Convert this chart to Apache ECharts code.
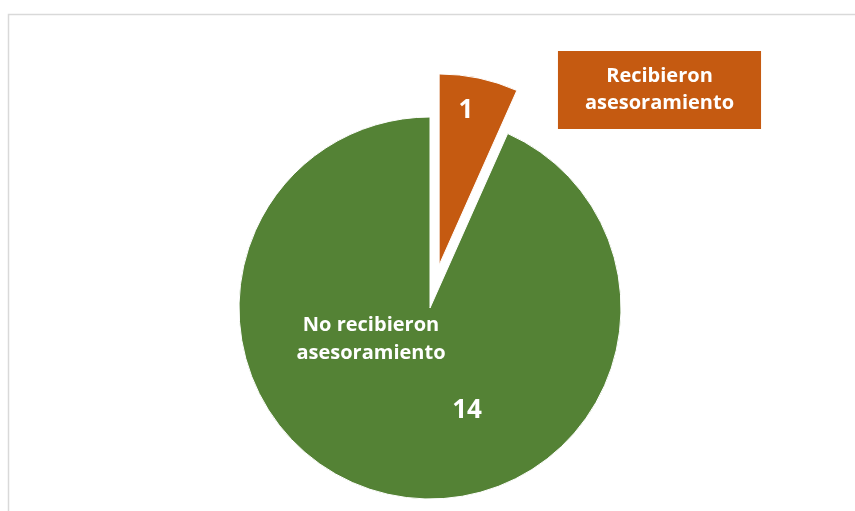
<!DOCTYPE html>
<html>
<head>
<meta charset="utf-8">
<script src="https://cdn.jsdelivr.net/npm/echarts@6/dist/echarts.min.js"></script>
<style>
  html, body { margin: 0; padding: 0; background: #ffffff; }
  #chart { width: 855px; height: 511px; }
</style>
</head>
<body>
<div id="chart"></div>
<script>
// Survey result: who received advice
const categories = ['Recibieron asesoramiento', 'No recibieron asesoramiento'];
const counts = [1, 14];
const sliceColors = ['#C55A11', '#548235'];

// Where each slice's value and name labels sit (pixel centres)
const valueLabelPos = [[466, 111], [467, 411]];
const nameLabelPos = [[659.5, 90], [371, 339]];

const FONT = '"Open Sans", "Liberation Sans", sans-serif';
const CENTER = [430, 308];
const RADIUS = 191;
const EXPLODE = 44;   // pull-out distance of the first slice

// The first slice is pulled out along its bisector
const total = counts.reduce(function (a, b) { return a + b; }, 0);
const bisector = (90 - (counts[0] / total) * 180) * Math.PI / 180;
const explodedCenter = [CENTER[0] + EXPLODE * Math.cos(bisector), CENTER[1] - EXPLODE * Math.sin(bisector)];

const chart = echarts.init(document.getElementById('chart'), null, { renderer: 'canvas' });

function valueLabel() {
  return {
    show: true,
    position: 'inside',
    formatter: '{c}',
    color: '#ffffff',
    fontFamily: FONT,
    fontWeight: 'bold',
    fontSize: 26
  };
}

// One pie per visible slice; the other slice is kept as an invisible spacer
function slicePie(index, center) {
  return {
    type: 'pie',
    center: center,
    radius: RADIUS,
    startAngle: 90,
    clockwise: true,
    animation: false,
    silent: true,
    avoidLabelOverlap: false,
    labelLine: { show: false },
    emphasis: { disabled: true },
    labelLayout: function (p) {
      const pos = valueLabelPos[p.dataIndex];
      return { x: pos[0], y: pos[1], align: 'center', verticalAlign: 'middle' };
    },
    data: categories.map(function (c, i) {
      if (i === index) {
        return { name: c, value: counts[i], itemStyle: { color: sliceColors[i], borderColor: '#ffffff', borderWidth: 1 }, label: valueLabel() };
      }
      return { name: c, value: counts[i], itemStyle: { color: 'rgba(0,0,0,0)' }, label: { show: false } };
    })
  };
}

chart.setOption({
  backgroundColor: '#ffffff',
  graphic: [{
    type: 'rect',
    shape: { x: 8.5, y: 14.5, width: 900, height: 600 },
    style: { fill: 'none', stroke: '#d9d9d9', lineWidth: 1.5 },
    silent: true,
    z: 0
  }],
  series: [
    slicePie(1, CENTER),
    slicePie(0, explodedCenter),
    {
      type: 'pie',
      name: 'categorias',
      center: CENTER,
      radius: RADIUS,
      startAngle: 90,
      clockwise: true,
      animation: false,
      silent: true,
      z: 3,
      avoidLabelOverlap: false,
      labelLine: { show: false },
      emphasis: { disabled: true },
      itemStyle: { color: 'rgba(0,0,0,0)' },
      label: {
        show: true,
        position: 'inside',
        formatter: function (p) {
          return p.name.replace(' asesoramiento', '\nasesoramiento');
        },
        color: '#ffffff',
        fontFamily: FONT,
        fontWeight: 'bold',
        fontSize: 20,
        lineHeight: 28,
        align: 'center'
      },
      labelLayout: function (p) {
        const pos = nameLabelPos[p.dataIndex];
        return { x: pos[0], y: pos[1], align: 'center', verticalAlign: 'middle' };
      },
      data: categories.map(function (c, i) {
        const item = { name: c, value: counts[i] };
        if (i === 0) {
          item.label = {
            backgroundColor: sliceColors[0],
            lineHeight: 27,
            padding: [14, 27, 10, 27]
          };
        }
        return item;
      })
    }
  ]
});
</script>
</body>
</html>
